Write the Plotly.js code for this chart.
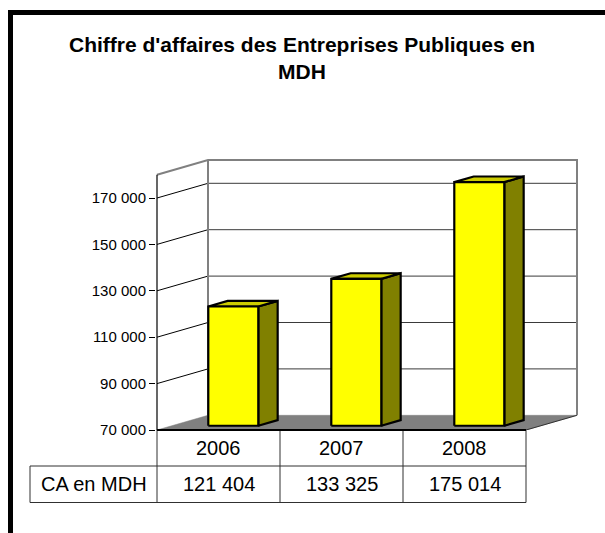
<!DOCTYPE html>
<html>
<head>
<meta charset="utf-8">
<script src="https://cdn.plot.ly/plotly-3.0.1.min.js"></script>
<style>
html,body{margin:0;padding:0;background:#fff;}
#wrap{position:relative;width:605px;height:533px;overflow:hidden;}
#chart{width:605px;height:533px;}
#frame{position:absolute;left:8px;top:10px;width:700px;height:700px;border:5.5px solid #000;box-sizing:border-box;pointer-events:none;}
</style>
</head>
<body>
<div id="wrap"><div id="chart"></div><div id="frame"></div></div>
<script>
// ---- data ----
const categories = ['2006', '2007', '2008'];
const values = [121404, 133325, 175014];
const tickValues = [70000, 90000, 110000, 130000, 150000, 170000];
const rowLabel = 'CA en MDH';
const titleText = "Chiffre d'affaires des Entreprises Publiques en<br>MDH";
const axisMin = 70000;
const axisMax = 180000;

// ---- geometry (pixels of the picture) ----
const W = 605, H = 533;
const PL = 156, PR = 580, PT = 157, PB = 430;   // plot area
const CAT0 = 218.5, PX_CAT = 123;               // px of category 0 centre, px per category
const PX_V = 46.4 / 20000;                      // px per value unit
const DEPTH_PX_X = 51, DEPTH_PX_Y = 14.7;
const DX = DEPTH_PX_X / PX_CAT;
const DY = DEPTH_PX_Y / PX_V;
const xRange = [(PL - CAT0) / PX_CAT, (PR - CAT0) / PX_CAT];
const yRange = [axisMin, axisMin + (PB - PT) / PX_V];
const HW = 25 / PX_CAT;      // half bar width
const F1 = 0.29, F2 = 0.67;  // bar depth positions

function P(x, v, f) { return [x + f * DX, v + f * DY]; }
function poly(pts, fill, lc, lw) {
  const xs = pts.map(p => p[0]), ys = pts.map(p => p[1]);
  xs.push(xs[0]); ys.push(ys[0]);
  return {type: 'scatter', mode: 'lines', x: xs, y: ys, fill: 'toself',
          fillcolor: fill, line: {color: lc, width: lw}, hoverinfo: 'skip', showlegend: false};
}
function line(pts, color, width) {
  return {type: 'scatter', mode: 'lines', x: pts.map(p => p[0]), y: pts.map(p => p[1]),
          line: {color: color, width: width}, hoverinfo: 'skip', showlegend: false};
}
function fmt(v) { return String(v).replace(/\B(?=(\d{3})+(?!\d))/g, ' '); }

const x0 = -0.5, x1 = categories.length - 0.5;
const traces = [];
// floor
traces.push(poly([P(x0, axisMin, 0), P(x1, axisMin, 0), P(x1, axisMin, 1), P(x0, axisMin, 1)], '#808080', '#808080', 0.5));
traces.push(line([P(x1, axisMin, 0), P(x1, axisMin, 1)], '#303030', 1));
// gridlines
tickValues.slice(1).forEach(t => {
  traces.push(line([P(x0, t, 0), P(x0, t, 1)], '#000', 1));
  traces.push(line([P(x0, t, 1), P(x1, t, 1)], '#3a3a3a', 1));
});
// walls
traces.push(line([P(x0, axisMin, 1), P(x0, axisMax, 1)], '#808080', 2));
traces.push(line([P(x0, axisMax, 0), P(x0, axisMax, 1), P(x1, axisMax, 1), P(x1, axisMin, 1)], '#808080', 2));
traces.push(line([P(x0, axisMin, 0), P(x0, axisMax, 0)], '#000', 1.2));
// bars
categories.forEach((c, i) => {
  const v = values[i];
  traces.push(poly([P(i + HW, axisMin, F1), P(i + HW, axisMin, F2), P(i + HW, v, F2), P(i + HW, v, F1)], '#808000', '#000', 2.2));
  traces.push(poly([P(i - HW, v, F1), P(i + HW, v, F1), P(i + HW, v, F2), P(i - HW, v, F2)], '#CCCC00', '#000', 2.2));
  traces.push(poly([P(i - HW, axisMin, F1), P(i + HW, axisMin, F1), P(i + HW, v, F1), P(i - HW, v, F1)], '#FFFF00', '#000', 2.2));
});

// ---- table (paper coordinates derived from the axes) ----
const pxToPaperX = px => (px - PL) / (PR - PL);
const pyToPaperY = py => (PB - py) / (PB - PT);
const dataToPaperX = x => (x - xRange[0]) / (xRange[1] - xRange[0]);
const rowTop = pyToPaperY(430), rowMid = pyToPaperY(466), rowBot = pyToPaperY(502.5);
const labelLeft = pxToPaperX(30);
const shapes = [];
const cellLine = {color: '#303030', width: 1};
for (let k = 0; k <= categories.length; k++) {
  const xp = dataToPaperX(k - 0.5);
  shapes.push({type: 'line', xref: 'paper', yref: 'paper', x0: xp, x1: xp, y0: rowTop, y1: rowBot, line: cellLine});
}
shapes.push({type: 'line', xref: 'paper', yref: 'paper', x0: labelLeft, x1: labelLeft, y0: rowMid, y1: rowBot, line: cellLine});
shapes.push({type: 'line', xref: 'paper', yref: 'paper', x0: labelLeft, x1: dataToPaperX(x1), y0: rowMid, y1: rowMid, line: cellLine});
shapes.push({type: 'line', xref: 'paper', yref: 'paper', x0: labelLeft, x1: dataToPaperX(x1), y0: rowBot, y1: rowBot, line: cellLine});
shapes.push({type: 'line', xref: 'paper', yref: 'paper', x0: dataToPaperX(x0), x1: dataToPaperX(x1), y0: rowTop, y1: rowTop, line: {color: '#000', width: 2}});

const FAM = 'Liberation Sans, Arial, sans-serif';
const tfont = {family: FAM, size: 20, color: '#000'};
const annotations = [];
categories.forEach((c, i) => {
  annotations.push({xref: 'x', yref: 'paper', x: i, y: (rowTop + rowMid) / 2, text: c, showarrow: false, font: tfont, xanchor: 'center', yanchor: 'middle'});
  annotations.push({xref: 'x', yref: 'paper', x: i, y: (rowMid + rowBot) / 2, text: fmt(values[i]), showarrow: false, font: tfont, xanchor: 'center', yanchor: 'middle'});
});
annotations.push({xref: 'paper', yref: 'paper', x: (labelLeft + pxToPaperX(157)) / 2, y: (rowMid + rowBot) / 2, text: rowLabel, showarrow: false, font: tfont, xanchor: 'center', yanchor: 'middle'});
// title
annotations.push({xref: 'paper', yref: 'paper', x: pxToPaperX(302), y: pyToPaperY(31), text: '<b>' + titleText + '</b>', showarrow: false,
  font: {family: FAM, size: 21, color: '#000'}, xanchor: 'center', yanchor: 'top', align: 'center'});

const layout = {
  width: W, height: H,
  margin: {l: PL, r: W - PR, t: PT, b: H - PB, pad: 0},
  paper_bgcolor: '#fff', plot_bgcolor: '#fff',
  separators: ', ',
  showlegend: false, hovermode: false,
  xaxis: {range: xRange, visible: false, fixedrange: true},
  yaxis: {range: yRange, tickvals: tickValues, tickformat: ',d', ticks: 'outside', ticklen: 6, tickcolor: '#000', tickwidth: 1,
          showgrid: false, zeroline: false, showline: false,
          tickfont: {family: FAM, size: 15, color: '#000'}, fixedrange: true},
  shapes: shapes, annotations: annotations
};
Plotly.newPlot('chart', traces, layout, {staticPlot: true, displayModeBar: false});
</script>
</body>
</html>
